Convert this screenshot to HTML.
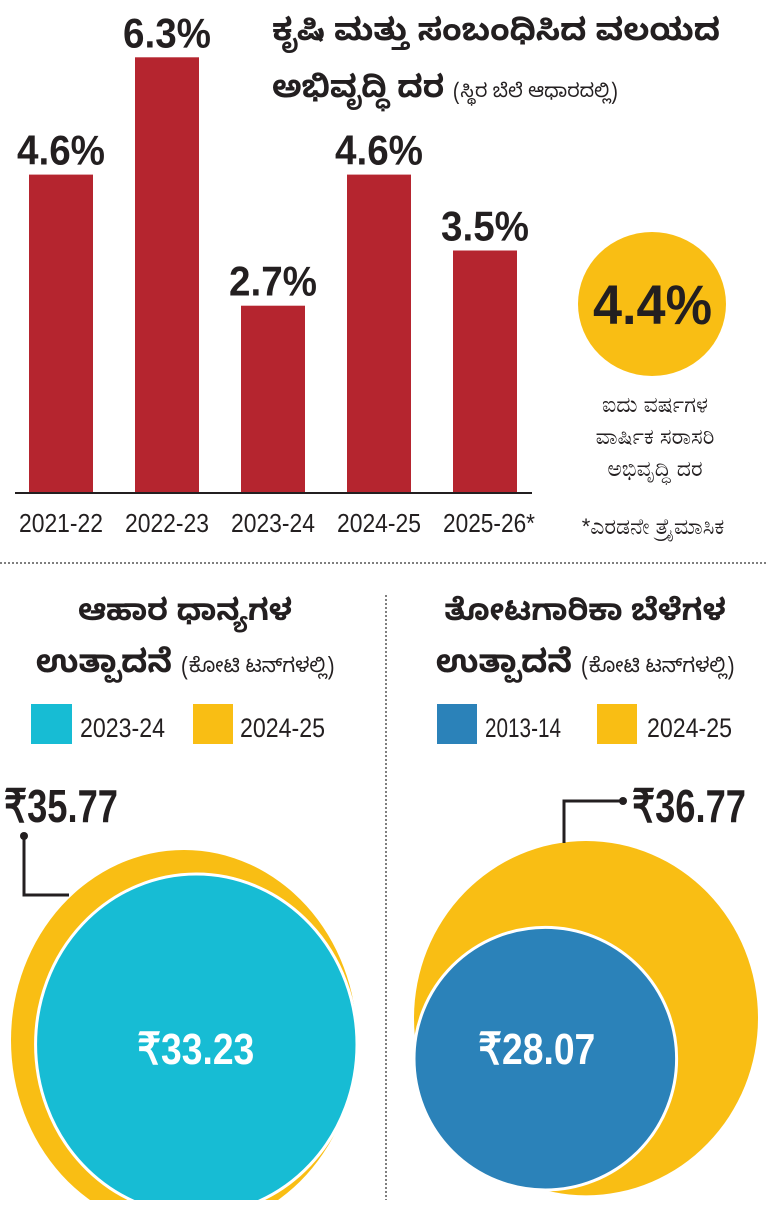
<!DOCTYPE html>
<html><head><meta charset="utf-8">
<style>
html,body{margin:0;padding:0;background:#fff;}
body{width:767px;height:1200px;overflow:hidden;font-family:"Liberation Sans","Noto Sans CJK JP",sans-serif;}
svg text{font-family:"Liberation Sans",sans-serif;}
.kn{font-family:"Noto Sans Kannada","Liberation Sans","Noto Sans CJK JP",sans-serif;}
</style></head>
<body>
<svg id="chart" width="767" height="1200" viewBox="0 0 767 1200" xmlns="http://www.w3.org/2000/svg">
  <text class="kn" x="272" y="40" font-size="31" font-weight="bold" fill="#231f20" textLength="448" lengthAdjust="spacingAndGlyphs">ಕೃಷಿ ಮತ್ತು ಸಂಬಂಧಿಸಿದ ವಲಯದ</text>
  <text class="kn" x="272" y="97" font-size="31" font-weight="bold" fill="#231f20">ಅಭಿವೃದ್ಧಿ ದರ <tspan font-size="19" font-weight="normal">(ಸ್ಥಿರ ಬೆಲೆ ಆಧಾರದಲ್ಲಿ)</tspan></text>
  <g id="bars"></g>
  <line x1="15" y1="493" x2="532" y2="493" stroke="#231f20" stroke-width="2"/>
  <ellipse cx="652" cy="304" rx="74" ry="72" fill="#F9BE14"/>
  <text x="593" y="324" font-size="56" font-weight="bold" fill="#231f20" textLength="119" lengthAdjust="spacingAndGlyphs">4.4%</text>
  <g class="kn" font-size="22" fill="#231f20" text-anchor="middle">
    <text x="655" y="412">ಐದು ವರ್ಷಗಳ</text>
    <text x="655" y="444">ವಾರ್ಷಿಕ ಸರಾಸರಿ</text>
    <text x="655" y="476">ಅಭಿವೃದ್ಧಿ ದರ</text>
    <text x="653" y="534">*ಎರಡನೇ ತ್ರೈಮಾಸಿಕ</text>
  </g>
  <line x1="0" y1="563" x2="767" y2="563" stroke="#555" stroke-width="1.5" stroke-dasharray="2,2"/>
  <line x1="386" y1="595" x2="386" y2="1200" stroke="#555" stroke-width="1.5" stroke-dasharray="2,2"/>

  <text class="kn" x="185" y="620" text-anchor="middle" font-size="30" font-weight="bold" fill="#231f20">ಆಹಾರ ಧಾನ್ಯಗಳ</text>
  <text class="kn" x="185" y="672" text-anchor="middle" font-size="32" font-weight="bold" fill="#231f20">ಉತ್ಪಾದನೆ <tspan font-size="20" font-weight="normal">(ಕೋಟಿ ಟನ್‌ಗಳಲ್ಲಿ)</tspan></text>
  <text class="kn" x="585" y="620" text-anchor="middle" font-size="30" font-weight="bold" fill="#231f20">ತೋಟಗಾರಿಕಾ ಬೆಳೆಗಳ</text>
  <text class="kn" x="585" y="672" text-anchor="middle" font-size="32" font-weight="bold" fill="#231f20">ಉತ್ಪಾದನೆ <tspan font-size="20" font-weight="normal">(ಕೋಟಿ ಟನ್‌ಗಳಲ್ಲಿ)</tspan></text>

  <g>
    <rect x="31" y="704" width="41" height="40" fill="#17BCD4"/>
    <text x="80" y="737" font-size="27" fill="#231f20" textLength="85" lengthAdjust="spacingAndGlyphs">2023-24</text>
    <rect x="193" y="704" width="40" height="40" fill="#F9BE14"/>
    <text x="240" y="737" font-size="27" fill="#231f20" textLength="85" lengthAdjust="spacingAndGlyphs">2024-25</text>
  </g>
  <g>
    <rect x="437" y="704" width="40" height="40" fill="#2B82B9"/>
    <text x="485" y="737" font-size="27" fill="#231f20" textLength="76" lengthAdjust="spacingAndGlyphs">2013-14</text>
    <rect x="597" y="704" width="40" height="40" fill="#F9BE14"/>
    <text x="647" y="737" font-size="27" fill="#231f20" textLength="85" lengthAdjust="spacingAndGlyphs">2024-25</text>
  </g>
  <g id="bubbles"></g>
</svg>
<script>
const categories = ["2021-22","2022-23","2023-24","2024-25","2025-26*"];
const growthValues = [4.6, 6.3, 2.7, 4.6, 3.5];
const foodValues = [33.23, 35.77];
const hortValues = [28.07, 36.77];

const NS = "http://www.w3.org/2000/svg";
const baseY = 492, pxPerUnit = 69, barW = 64, x0 = 29, step = 106;
const yScale = v => baseY - v * pxPerUnit;
const xScale = i => x0 + i * step;
function mk(tag, attrs, parent, txt){
  const e = document.createElementNS(NS, tag);
  for (const k in attrs) e.setAttribute(k, attrs[k]);
  if (txt !== undefined) e.textContent = txt;
  parent.appendChild(e); return e;
}
const bars = document.getElementById("bars");
growthValues.forEach((v, i) => {
  const r = mk("rect", {x: xScale(i), y: yScale(v), width: barW, height: baseY - yScale(v), fill: "#B5252F"}, bars);
  
  
  const t = mk("text", {x: xScale(i) - 12, y: yScale(v) - 10, "font-size": "42", "font-weight": "bold", fill: "#231f20", textLength: "88", lengthAdjust: "spacingAndGlyphs"}, bars, v.toFixed(1) + "%");
  
  
  const len = i === 4 ? 92 : 84;
  const c = mk("text", {x: xScale(i) + barW/2 - 42, y: 532, "font-size": "26", fill: "#231f20", textLength: String(len), lengthAdjust: "spacingAndGlyphs"}, bars, categories[i]);
  
  
});

const bub = document.getElementById("bubbles");
const kF = 173 / 35.77;
const fBig = foodValues[1] * kF, fSmall = foodValues[0] * kF;
const fRight = 357;
const fy = mk("ellipse", {cx: fRight - fBig, cy: 850 + fBig*1.1, rx: fBig, ry: fBig*1.1, fill: "#F9BE14"}, bub);


const fc = mk("ellipse", {cx: fRight - fSmall, cy: 874 + fSmall*1.06, rx: fSmall, ry: fSmall*1.06, fill: "#17BCD4", stroke: "#fff", "stroke-width": "3"}, bub);


const fl = mk("text", {x: fRight - fSmall - 59, y: 1064, "font-size": "44", "font-weight": "bold", fill: "#fff", textLength: "117", lengthAdjust: "spacingAndGlyphs"}, bub, "₹" + foodValues[0].toFixed(2));


const fp = mk("polyline", {points: "24,836 24,895 69,895", fill: "none", stroke: "#231f20", "stroke-width": "3"}, bub);


const fd = mk("circle", {cx: 24, cy: 836, r: 4, fill: "#231f20"}, bub);


const ft = mk("text", {x: 4, y: 822, "font-size": "46", "font-weight": "bold", fill: "#231f20", textLength: "114", lengthAdjust: "spacingAndGlyphs"}, bub, "₹" + foodValues[1].toFixed(2));



const kH = 172 / 36.77;
const hBig = hortValues[1] * kH, hSmall = hortValues[0] * kH;
const hy = mk("ellipse", {cx: 414 + hBig, cy: 841 + hBig*1.03, rx: hBig, ry: hBig*1.03, fill: "#F9BE14"}, bub);


const hc = mk("ellipse", {cx: 414 + hSmall, cy: 1190 - hSmall, rx: hSmall, ry: hSmall, fill: "#2B82B9", stroke: "#fff", "stroke-width": "3"}, bub);


const hl = mk("text", {x: 414 + hSmall - 67, y: 1064, "font-size": "44", "font-weight": "bold", fill: "#fff", textLength: "117", lengthAdjust: "spacingAndGlyphs"}, bub, "₹" + hortValues[0].toFixed(2));


const hp = mk("polyline", {points: "564,843 564,801 623,801", fill: "none", stroke: "#231f20", "stroke-width": "3"}, bub);


const hd = mk("circle", {cx: 623, cy: 801, r: 4, fill: "#231f20"}, bub);


const ht = mk("text", {x: 632, y: 822, "font-size": "46", "font-weight": "bold", fill: "#231f20", textLength: "114", lengthAdjust: "spacingAndGlyphs"}, bub, "₹" + hortValues[1].toFixed(2));


</script>
</body></html>
